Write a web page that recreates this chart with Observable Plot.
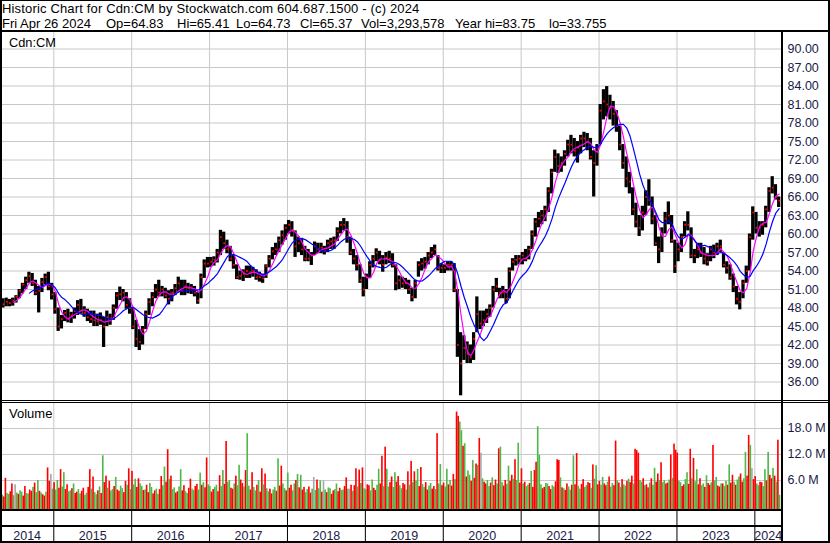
<!DOCTYPE html>
<html>
<head>
<meta charset="utf-8">
<script src="https://cdn.jsdelivr.net/npm/d3@7"></script>
<script src="https://cdn.jsdelivr.net/npm/@observablehq/plot@0.6"></script>
<style>
  body { margin: 0; background: #fff; }
  #chart { position: relative; width: 830px; height: 543px; overflow: hidden; background: #fff;
           font-family: "Liberation Sans", Arial, sans-serif; }
  .panel { position: absolute; left: 0; }
</style>
</head>
<body>
<div id="chart"></div>
<script>
// ---- Data: Cdn:CM, semi-monthly periods from 1 May 2014 to 30 Apr 2024 ----
const periodStart = 2014 + 4 / 12;          // decimal year of the first half-month
const xDomain = [2014.316, 2024.342];       // 26 Apr 2014 .. 26 Apr 2024

const priceHigh = [
  49.5,49.6,49.4,49.6,50.0,51.0,52.0,53.0,53.8,53.6,52.5,51.5,52.8,53.5,53.8,52.0,
  50.5,48.0,46.8,47.6,47.8,47.3,48.0,49.2,49.4,48.2,47.8,47.5,47.5,47.0,47.2,46.5,47.5,47.0,48.5,50.5,51.4,51.0,50.5,49.5,
  48.0,46.0,44.5,45.0,47.5,49.5,50.5,51.8,52.5,51.5,51.2,50.8,51.0,51.8,53.0,52.5,52.5,52.0,51.8,51.5,50.5,53.5,55.8,56.2,
  56.2,56.3,57.5,60.6,60.3,59.0,58.0,56.5,55.0,54.0,54.2,54.8,54.8,54.6,54.2,53.8,53.5,55.0,56.5,57.8,58.5,59.5,60.5,61.5,
  62.2,62.0,60.5,59.5,59.3,58.0,57.5,57.0,58.7,58.5,58.5,58.0,59.0,59.3,59.5,61.0,62.0,62.5,62.0,59.5,57.5,56.5,55.0,53.0,
  53.5,55.5,56.5,57.6,57.2,56.5,57.0,57.2,56.8,55.0,53.2,53.0,52.8,52.5,51.2,52.5,55.5,56.0,56.2,57.0,57.8,58.2,56.5,55.2,
  55.0,55.5,55.5,55.2,51.0,44.0,43.5,42.5,42.0,44.0,49.8,47.5,47.5,47.8,48.5,51.5,52.8,51.2,51.5,51.0,54.5,56.0,56.5,56.5,
  57.0,57.5,58.0,60.5,62.5,63.5,63.8,64.5,67.5,70.5,73.6,73.0,72.5,73.5,75.2,76.0,75.5,75.0,76.0,76.5,76.3,75.5,73.5,74.5,
  81.0,83.4,83.9,82.5,81.5,80.0,77.5,74.5,72.5,70.0,67.5,65.0,63.0,64.5,67.0,68.8,66.0,63.0,59.5,61.0,63.5,65.2,63.0,59.0,
  58.5,60.0,62.0,63.6,61.0,57.5,58.5,58.5,57.8,56.8,58.0,58.2,58.5,59.0,57.0,55.5,55.0,53.5,51.5,50.5,52.5,54.8,60.0,64.4,
  63.5,62.0,62.0,64.5,67.5,69.3,68.0,66.0
];
const priceLow = [
  48.0,48.2,48.2,48.3,48.8,49.5,50.3,51.0,52.0,51.5,50.0,47.2,50.5,51.8,50.8,49.3,
  47.0,44.2,44.6,45.8,45.6,45.5,46.2,46.8,47.0,46.5,45.8,45.5,45.0,45.0,45.2,41.6,45.0,45.2,46.0,47.8,49.2,49.0,47.8,47.0,
  44.5,41.6,41.1,42.0,44.5,46.8,48.2,49.5,49.8,49.8,49.5,48.5,49.0,50.0,50.5,50.0,50.0,50.3,50.2,49.8,48.6,49.5,52.8,54.5,
  54.6,54.8,55.3,56.5,57.5,56.8,55.5,54.3,52.6,52.5,52.3,52.8,52.8,53.0,52.5,52.2,52.0,52.8,54.5,55.8,56.5,57.0,58.2,59.0,
  60.0,59.5,56.2,57.0,56.5,55.5,55.5,54.9,56.5,56.8,56.8,56.6,57.0,57.5,57.5,58.8,60.0,60.5,58.5,56.5,55.0,54.0,52.0,49.8,
  51.0,52.8,54.5,55.5,55.0,53.8,55.0,55.2,54.5,50.8,51.0,51.2,51.0,50.2,49.0,49.5,53.0,54.0,54.3,55.0,56.0,56.5,54.0,53.6,
  53.6,54.0,54.0,50.5,40.0,33.76,39.5,39.0,39.0,39.5,44.0,44.5,45.0,45.5,46.5,48.0,50.5,49.5,49.5,48.7,49.5,54.0,54.8,55.0,
  55.0,55.5,55.8,57.5,59.5,61.0,61.5,62.0,63.5,66.5,70.0,69.8,70.0,71.0,72.5,73.0,72.5,71.5,73.0,74.0,73.5,72.0,66.0,71.0,
  74.5,78.5,79.0,78.5,77.5,76.5,73.5,70.5,67.5,66.5,63.0,61.0,59.6,60.5,63.0,64.5,61.5,58.0,55.2,57.0,60.0,61.5,58.5,53.6,
  55.5,57.0,59.5,60.5,56.0,55.2,56.0,56.2,55.0,54.8,55.5,56.0,56.5,57.0,54.5,53.5,52.5,50.5,48.5,47.7,49.5,52.0,54.0,59.0,
  60.0,59.5,59.8,61.0,63.5,66.5,65.5,64.3
];
const priceClose = [
  48.6,49.0,48.8,49.2,49.8,50.8,51.8,52.5,53.2,52.0,50.5,50.8,52.2,53.0,51.5,50.2,
  47.8,45.0,46.2,47.2,46.3,46.8,47.5,48.5,47.6,47.2,46.5,46.2,46.0,45.8,46.0,45.0,46.5,46.3,48.0,50.0,50.2,50.5,48.5,48.0,
  45.0,43.0,42.5,44.5,47.0,49.0,49.8,51.0,50.5,51.0,50.0,49.5,50.5,51.2,52.0,50.8,51.5,51.2,51.3,50.5,49.2,53.0,55.2,55.2,
  55.5,55.8,57.0,59.5,58.5,57.5,56.0,55.0,53.0,53.2,53.5,54.0,53.8,54.0,53.0,53.0,52.8,54.8,56.0,57.2,57.5,59.0,59.8,61.0,
  61.5,60.5,58.0,58.5,57.5,56.0,56.0,56.5,58.0,57.5,57.8,57.2,58.5,58.8,59.0,60.5,61.5,61.5,59.5,57.0,56.0,55.0,52.5,51.0,
  53.0,55.0,56.0,57.0,55.8,55.0,56.2,56.0,55.0,52.0,52.5,52.0,52.0,51.0,49.8,52.0,55.0,55.2,55.5,56.5,57.0,57.5,54.5,54.5,
  54.5,55.0,55.0,51.0,42.0,39.0,41.5,40.5,40.0,43.0,47.0,45.5,46.0,47.0,48.0,51.0,51.5,50.5,50.5,49.5,54.0,55.5,55.8,56.0,
  56.5,56.0,57.5,60.0,62.0,62.5,63.0,64.0,67.0,70.0,72.5,71.0,71.5,73.0,74.5,74.5,73.5,74.0,75.5,75.5,75.0,72.5,71.5,74.0,
  80.0,81.5,81.0,80.5,79.5,77.5,74.5,71.5,69.0,68.5,64.0,62.0,61.0,63.5,66.0,65.5,62.5,58.5,57.5,60.0,62.5,63.0,59.0,54.8,
  57.5,59.5,61.5,61.5,56.5,56.5,57.5,57.0,56.0,55.5,57.5,57.0,58.0,58.0,55.0,54.5,53.0,51.5,49.5,49.0,52.0,54.0,59.5,63.5,
  61.0,61.0,61.5,64.0,67.0,67.5,66.0,65.4
];
// volume in millions, two bars per half-month
const volumeM = [
  2.6,2.2,6.5,3.0,2.8,3.4,5.2,2.5,5.0,3.1,2.8,3.6,3.3,2.4,4.6,3.0,2.9,3.8,3.5,4.4,5.4,3.2,6.0,3.5,3.1,2.7,2.4,3.3,8.9,5.8,7.4,4.0,
  5.5,3.8,6.0,4.2,8.5,4.5,7.8,3.9,5.0,3.4,3.6,4.1,5.2,3.0,3.3,3.9,2.9,3.5,4.2,2.6,3.1,4.4,8.5,4.0,6.8,3.2,2.7,3.6,4.5,3.0,11.7,5.5,7.0,4.2,5.8,3.6,3.9,4.6,6.7,3.8,3.5,4.7,4.1,3.2,5.8,4.9,8.7,3.9,
  8.1,5.0,6.3,4.4,6.4,5.2,4.6,3.7,3.8,4.9,3.2,5.3,4.4,2.9,3.6,4.0,2.8,3.9,6.9,4.8,9.1,5.6,13.1,6.2,7.0,3.9,4.3,3.1,3.4,4.5,8.5,3.6,4.8,3.4,3.0,4.2,6.3,4.0,3.7,4.6,5.1,3.8,7.7,4.9,5.5,4.3,11.2,5.0,
  4.6,3.3,3.9,4.4,4.9,3.4,7.1,4.6,8.3,5.1,15.0,5.6,6.0,4.2,4.0,5.2,7.0,4.8,9.5,6.1,5.3,4.5,8.3,16.8,4.7,3.8,7.8,4.4,3.6,4.9,6.0,3.3,8.7,5.0,7.5,4.1,3.4,4.0,2.9,3.8,4.4,3.5,11.0,4.7,9.3,5.2,4.1,3.6,
  7.7,4.2,4.9,3.6,5.2,6.0,7.4,4.3,7.2,3.8,4.4,3.2,3.9,4.5,3.1,4.0,6.7,3.7,6.1,4.1,5.9,3.3,5.9,3.8,3.2,4.3,4.1,2.8,3.6,3.9,5.2,3.4,4.2,3.7,3.8,4.6,6.6,4.0,4.0,4.9,3.5,4.8,8.7,4.5,8.4,5.3,8.9,4.1,
  3.9,5.0,4.8,3.6,6.1,4.2,3.7,4.9,8.6,5.2,11.6,4.6,13.7,8.6,4.5,5.5,6.8,4.4,7.8,5.6,6.9,4.8,4.1,5.3,5.0,3.8,8.0,4.9,10.4,5.5,8.0,5.9,8.6,4.6,9.0,5.1,4.4,5.5,3.8,4.7,5.3,4.0,4.6,3.9,16.8,5.2,9.7,4.8,
  5.4,4.5,8.6,5.0,6.0,4.7,7.4,6.2,21.8,20.8,19.5,17.5,13.9,14.5,6.8,8.2,7.2,5.8,10.6,6.5,9.8,9.5,15.7,12.3,6.4,5.6,5.2,6.0,4.6,5.4,6.6,4.8,6.1,5.2,13.3,13.7,5.5,4.7,6.0,5.1,9.3,5.8,7.2,6.3,10.8,6.0,14.6,5.4,
  8.7,5.2,5.6,4.6,4.9,5.3,8.1,4.4,8.3,10.2,18.4,11.8,5.0,4.1,4.4,5.3,5.2,4.6,3.9,4.8,4.5,5.7,10.8,10.6,6.6,4.3,4.1,3.7,5.2,4.5,3.8,4.9,11.7,5.0,12.2,4.7,4.0,5.1,6.2,4.4,4.8,5.5,5.3,4.2,9.6,6.3,9.4,5.0,
  5.8,4.9,6.7,5.2,4.8,5.6,6.8,4.5,5.3,4.8,15.1,5.9,5.4,4.4,6.2,5.0,4.7,5.8,6.3,5.5,7.0,5.2,13.2,12.9,12.3,6.0,5.6,6.4,4.8,5.0,4.3,5.4,6.4,4.9,8.8,5.6,7.5,6.0,10.1,5.5,6.0,5.2,5.4,6.1,11.9,6.5,14.4,13.0,
  12.3,5.8,5.5,4.6,5.0,6.2,7.8,5.1,13.2,6.4,11.1,5.7,8.5,5.0,6.4,4.8,5.2,4.4,7.1,5.3,4.9,5.5,14.1,5.9,6.7,4.7,4.5,5.2,5.2,4.6,5.8,4.9,9.6,5.4,7.2,5.6,4.9,6.1,6.8,7.5,5.6,6.4,12.5,7.0,16.4,14.1,8.8,6.2,
  6.9,5.2,4.8,5.6,5.5,4.6,8.5,5.9,12.5,7.2,6.4,8.8,7.0,5.6,15.3,2.6
];
// r = down day (red), g = up day (green), y = unchanged (grey)
const volumeColor = (
  "gr rg gr rg yg rg gr rg gr rg rg gr gr rg rr yg " +
  "rg gr rg gr rg gr gr rg gr rg gr rg rg gr gr gr rg rg gr gr rg gr rg rg " +
  "rg gr rg gr gr rg gr rg gr rg gr rg rg gr rg gr rg gr rg gr rg gr gr rg " +
  "gr rg gr rg gr rg gr rg rg gr rg rg gr rg gr gr rg rg gr rg gr gr rg gr " +
  "gr rg gr gr gr rg gr rg yg rg gr yg rg gr rg gr rg gr rg yr gr rg rg rg " +
  "gr rg gr rg gr rg rg gr rg gr rg gr rg rg rg rg gr rg gr rg gr rg rg gr " +
  "rg gr gr rg rr gg rg rg gr gr rg ry gr rg gr gr rg rg gr rg gr rg rg gr " +
  "rg rg gr gr rr gg gr rg gr rg gr rr gr gr rg gr gr rg gr rg gr rg rg gr " +
  "rg gr rg rg gr rg rg rg gr gr rg rr rg gr gr rg rg gr rg rg gr rg rg rr " +
  "rg gr rg gr rg rg gr rg gr gr rg rg gr rg rg gr gr rg rg gr rg gr rg yr " +
  "rg gr rg gr gr rg rg rg"
).replace(/ /g, "");

const priceTicks = [36, 39, 42, 45, 48, 51, 54, 57, 60, 63, 66, 69, 72, 75, 78, 81, 84, 87, 90];
const volumeTicks = [6, 12, 18];
const yearLabels = [2014, 2015, 2016, 2017, 2018, 2019, 2020, 2021, 2022, 2023, 2024];
const yearBounds = yearLabels.slice(1);
const headerTitle = "Historic Chart for Cdn:CM by Stockwatch.com 604.687.1500 - (c) 2024";
const headerItems = ["Fri Apr 26 2024", "Op=64.83", "Hi=65.41", "Lo=64.73", "Cl=65.37", "Vol=3,293,578", "Year hi=83.75", "lo=33.755"];
const headerX = [2, 106, 177, 236, 300, 361, 455, 549];

if (priceHigh.length !== 240 || priceLow.length !== 240 || priceClose.length !== 240 ||
    volumeM.length !== 480 || volumeColor.length !== 480) {
  throw new Error("length mismatch " + [priceHigh.length, priceLow.length, priceClose.length, volumeM.length, volumeColor.length]);
}

// ---- Build tables ----
const periods = priceHigh.map((h, i) => ({
  t1: periodStart + i / 24, t2: periodStart + (i + 1) / 24, tm: periodStart + (i + 0.5) / 24,
  high: h, low: priceLow[i], close: priceClose[i]
}));
const colorMap = { r: "#ff0000", g: "#50b848", y: "#a8a8a8" };
const volBars = volumeM.map((v, j) => ({
  t1: periodStart + j / 48, t2: periodStart + (j + 1) / 48, v, c: colorMap[volumeColor[j]]
}));

const font = "'Liberation Sans', Arial, Helvetica, sans-serif";
const labelFill = "#1a1a48";
const common = {
  width: 830, marginLeft: 0, marginRight: 49, marginTop: 0, marginBottom: 0,
  x: { domain: xDomain, axis: null },
  style: { fontFamily: font, background: "transparent" }
};
const grid = { stroke: "#c8c8c8", strokeOpacity: 1, strokeWidth: 1 };

const pricePlot = Plot.plot({
  ...common, height: 370,
  y: { domain: [33, 93], axis: null },
  marks: [
    Plot.gridY(priceTicks, grid),
    Plot.gridX(yearBounds, grid),
    Plot.rect(periods, { x1: "t1", x2: "t2", y1: "low", y2: "high", fill: "#000" }),
    Plot.dot(periods, { x: "tm", y: "close", r: 1, symbol: "square", fill: "#ff0000", stroke: "none" }),
    Plot.lineY(periods, Plot.windowY({ k: 4, anchor: "end", strict: true },
      { x: "tm", y: "close", stroke: "#ff00ff", strokeWidth: 1.2 })),
    Plot.lineY(periods, Plot.windowY({ k: 9, anchor: "end", strict: true },
      { x: "tm", y: "close", stroke: "#0000ff", strokeWidth: 1.2 })),
    Plot.text(priceTicks, { y: d => d, text: d => d.toFixed(2), frameAnchor: "right",
      textAnchor: "start", dx: 6, fontSize: 12.5, fill: labelFill })
  ]
});

const volumePlot = Plot.plot({
  ...common, height: 107,
  y: { domain: [-0.7, 24], axis: null },
  color: { type: "identity" },
  marks: [
    Plot.gridY(volumeTicks, grid),
    Plot.gridX(yearBounds, grid),
    Plot.rect(volBars, { x1: "t1", x2: "t2", y1: -0.7, y2: "v", fill: "c" }),
    Plot.text(volumeTicks, { y: d => d, text: d => d.toFixed(1) + " M", frameAnchor: "right",
      textAnchor: "start", dx: 6, fontSize: 12.5, fill: labelFill })
  ]
});

const yearPlot = Plot.plot({
  ...common, height: 34,
  y: { domain: [34, 0], axis: null },
  marks: [
    Plot.ruleX(yearBounds, { stroke: "#000", strokeWidth: 1 }),
    Plot.text(yearLabels, {
      x: d => (Math.max(d, xDomain[0]) + Math.min(d + 1, xDomain[1])) / 2,
      y: 26, text: d => String(d), fontSize: 12.5, fill: labelFill
    })
  ]
});

const chart = document.getElementById("chart");
function place(svg, top) {
  const wrap = document.createElement("div");
  wrap.className = "panel";
  wrap.style.top = top + "px";
  wrap.appendChild(svg);
  chart.appendChild(wrap);
}
place(pricePlot, 30);
place(volumePlot, 402);
place(yearPlot, 509);

// ---- Frame, header and panel captions ----
const ov = d3.select(chart).append("svg")
  .attr("width", 830).attr("height", 543)
  .style("position", "absolute").style("left", 0).style("top", 0)
  .style("font-family", font);
const lines = [
  [0, 0, 830, 1], [0, 0, 2, 543], [828, 0, 2, 543], [0, 541, 830, 2],
  [0, 30, 830, 2], [0, 400, 830, 1], [0, 402, 830, 1],
  [781, 30, 2, 513], [0, 509, 783, 2], [0, 525, 783, 2]
];
ov.selectAll("rect.ln").data(lines).join("rect").attr("class", "ln")
  .attr("x", d => d[0]).attr("y", d => d[1]).attr("width", d => d[2]).attr("height", d => d[3])
  .attr("fill", "#000").attr("shape-rendering", "crispEdges");
ov.append("text").attr("x", 2).attr("y", 12.9).attr("font-size", 13)
  .attr("letter-spacing", "0.16px").attr("fill", "#000").text(headerTitle);
ov.selectAll("text.hd").data(headerItems).join("text").attr("class", "hd")
  .attr("x", (d, i) => headerX[i]).attr("y", 27.6).attr("font-size", 13).attr("fill", "#000").text(d => d);
ov.append("text").attr("x", 9).attr("y", 46.5).attr("font-size", 12.8).attr("fill", "#000").text("Cdn:CM");
ov.append("text").attr("x", 9).attr("y", 418).attr("font-size", 13).attr("fill", "#000").text("Volume");
</script>
</body>
</html>
